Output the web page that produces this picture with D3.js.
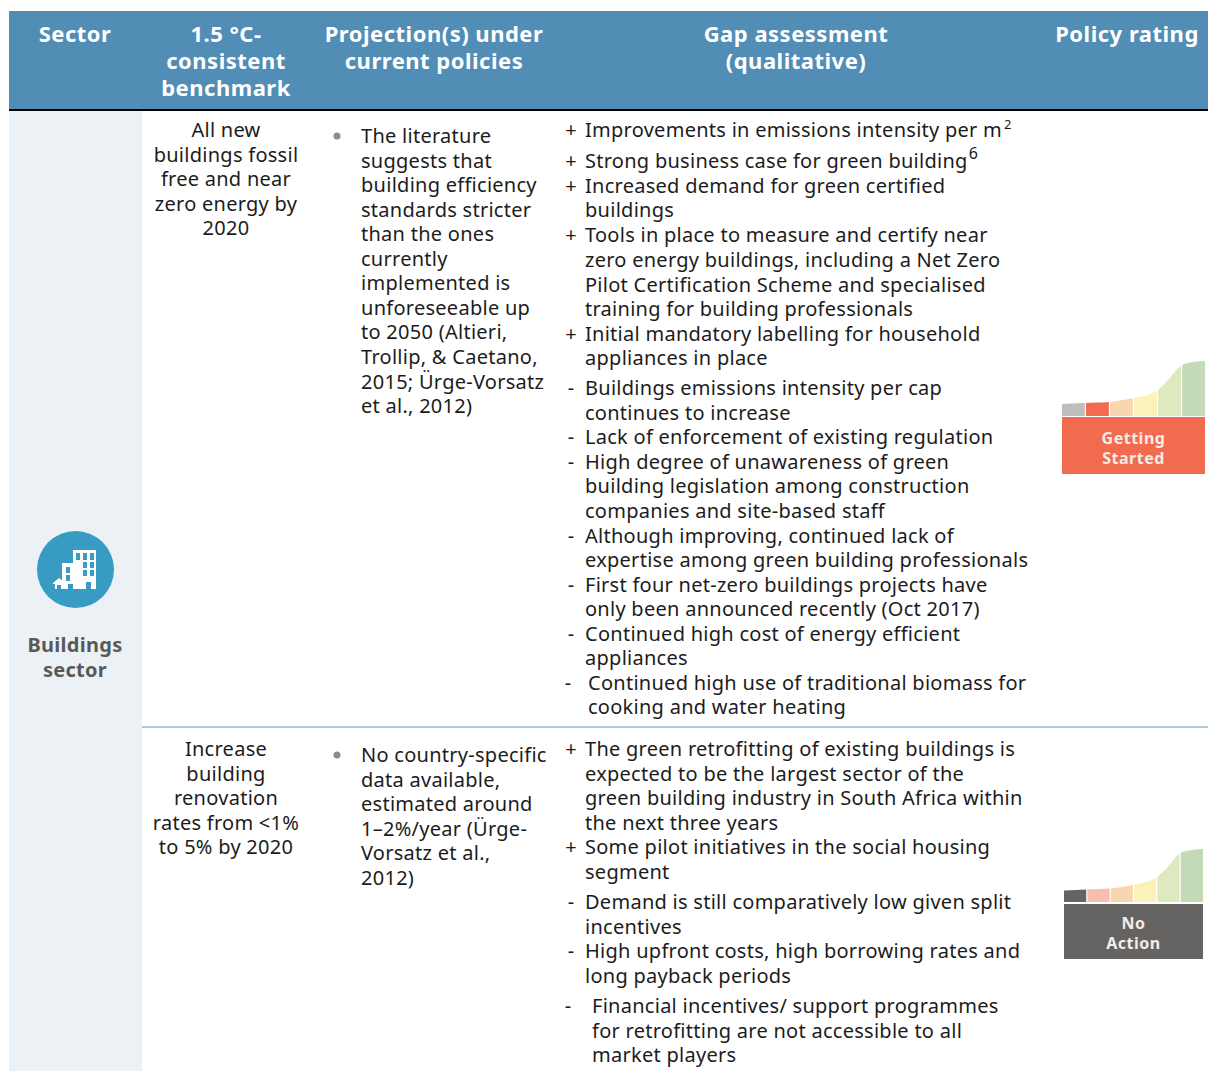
<!DOCTYPE html>
<html>
<head>
<meta charset="utf-8">
<script src="https://cdn.jsdelivr.net/npm/d3@7"></script>
<style>
    html, body { margin: 0; padding: 0; background: #fff; }
    svg { display: block; }
    text { font-family: 'Noto Sans', sans-serif; letter-spacing: 0.27px; }
</style>
</head>
<body>
<div id="container"></div>
<script>
const headers = [
    ['Sector'],
    ['1.5 °C-', 'consistent', 'benchmark'],
    ['Projection(s) under', 'current policies'],
    ['Gap assessment', '(qualitative)'],
    ['Policy rating']
];
const sectorLabel = ['Buildings', 'sector'];

const benchmarkNew = ['All new', 'buildings fossil', 'free and near', 'zero energy by', '2020'];
const benchmarkRetrofit = ['Increase', 'building', 'renovation', 'rates from <1%', 'to 5% by 2020'];

const projectionNew = ['The literature', 'suggests that', 'building efficiency', 'standards stricter', 'than the ones', 'currently', 'implemented is', 'unforeseeable up', 'to 2050 (Altieri,', 'Trollip, & Caetano,', '2015; Ürge-Vorsatz', 'et al., 2012)'];
const projectionRetrofit = ['No country-specific', 'data available,', 'estimated around', '1–2%/year (Ürge-', 'Vorsatz et al.,', '2012)'];

const gapNew = [
    ['+', ['Improvements in emissions intensity per m'], '2'],
    ['+', ['Strong business case for green building'], '6'],
    ['+', ['Increased demand for green certified', 'buildings']],
    ['+', ['Tools in place to measure and certify near', 'zero energy buildings, including a Net Zero', 'Pilot Certification Scheme and specialised', 'training for building professionals']],
    ['+', ['Initial mandatory labelling for household', 'appliances in place']],
    ['-', ['Buildings emissions intensity per cap', 'continues to increase']],
    ['-', ['Lack of enforcement of existing regulation']],
    ['-', ['High degree of unawareness of green', 'building legislation among construction', 'companies and site-based staff']],
    ['-', ['Although improving, continued lack of', 'expertise among green building professionals']],
    ['-', ['First four net-zero buildings projects have', 'only been announced recently (Oct 2017)']],
    ['-', ['Continued high cost of energy efficient', 'appliances']],
    ['-', ['Continued high use of traditional biomass for', 'cooking and water heating']]
];
const gapRetrofit = [
    ['+', ['The green retrofitting of existing buildings is', 'expected to be the largest sector of the', 'green building industry in South Africa within', 'the next three years']],
    ['+', ['Some pilot initiatives in the social housing', 'segment']],
    ['-', ['Demand is still comparatively low given split', 'incentives']],
    ['-', ['High upfront costs, high borrowing rates and', 'long payback periods']],
    ['-', ['Financial incentives/ support programmes', 'for retrofitting are not accessible to all', 'market players']]
];

// rating curve: share along the bar -> height of the curve
const curveShare = [0, 0.16, 0.33, 0.5, 0.6, 0.67, 0.73, 0.8, 0.84, 0.92, 1];
const curveHeight = [12, 13, 14, 18, 21, 26, 34, 46, 51, 54, 55];
const ratingNames = ['Getting Started', 'No Action'];
const ratingBands = [
    ['#bfbdbd', '#f26b4e', '#f9d6b0', '#faf2b9', '#dfe9bf', '#c4dab6'],
    ['#666462', '#f9bdb0', '#f9d6b0', '#faf2b9', '#dfe9bf', '#c4dab6']
];
const ratingColors = ['#f26b4e', '#666462'];

const width = 1208, height = 1071;
const ink = '#1c1c1c';
const bodySize = 20;
const headSize = 22;

const svg = d3.select('#container')
    .append('svg')
    .attr('width', width)
    .attr('height', height);

// backgrounds
svg.append('rect').attr('x', 9).attr('y', 11).attr('width', width - 9).attr('height', 98).attr('fill', '#518db5');
svg.append('rect').attr('x', 9).attr('y', 109).attr('width', width - 9).attr('height', 2).attr('fill', '#000');
svg.append('rect').attr('x', 9).attr('y', 111).attr('width', 133).attr('height', height - 111).attr('fill', '#ecf1f6');
svg.append('rect').attr('x', 142).attr('y', 726).attr('width', width - 142).attr('height', 2).attr('fill', '#a9cbdd');

// a fixed line pitch for every text column
const lineY = d3.scaleLinear().domain([0, 1]).range([0, 24.55]);

const block = (lines, x, top, anchor, opts = {}) => {
    const g = svg.append('g');
    g.selectAll('text')
        .data(lines)
        .enter()
        .append('text')
        .attr('x', x)
        .attr('y', (_, i) => top + lineY(i))
        .attr('text-anchor', anchor)
        .attr('font-size', opts.size || bodySize)
        .attr('font-weight', opts.weight || 400)
        .attr('fill', opts.fill || ink)
        .text(d => d);
};

// header
const headerX = [75, 226, 434, 796, 1127];
headers.forEach((lines, i) => {
    const g = svg.append('g');
    g.selectAll('text')
        .data(lines)
        .enter()
        .append('text')
        .attr('x', headerX[i])
        .attr('y', (_, j) => 41.5 + j * 27.4)
        .attr('text-anchor', 'middle')
        .attr('font-size', headSize)
        .attr('font-weight', 700)
        .attr('fill', '#fff')
        .style('letter-spacing', '0.5px')
        .text(d => d);
});

// sector cell
svg.append('circle').attr('cx', 75.5).attr('cy', 569.5).attr('r', 38.5).attr('fill', '#379bc4');
const icon = svg.append('g').attr('fill', '#fff');
icon.append('path').attr('fill-rule', 'evenodd').attr('d',
    'M73 550h23v39h-5v-7h-5v7h-13z' +
    'M76 553h4v7h-4zM83 553h4v7h-4zM90 553h4v7h-4z' +
    'M83 562h4v6h-4zM90 562h4v6h-4z' +
    'M83 570h4v6h-4zM90 570h4v6h-4z');
icon.append('path').attr('fill-rule', 'evenodd').attr('d',
    'M62 563h18v26h-7v-5h-5v5h-6v-9z' +
    'M66 567h4v6h-4zM73 567h4v6h-4zM66 575h4v6h-4zM73 575h4v6h-4z');
icon.append('path').attr('d', 'M53 583l6-5 6 5v1h-1v5h-3v-4h-4v4h-2v-5h-2z');
block(sectorLabel, 75, 652, 'middle', { size: 20, weight: 700, fill: '#595959' });

// benchmark column
block(benchmarkNew, 226, 137, 'middle');
block(benchmarkRetrofit, 226, 756, 'middle');

// projection column
const projectionBullet = (y) => svg.append('circle').attr('cx', 337).attr('cy', y).attr('r', 3.5).attr('fill', '#8c8c8c');
projectionBullet(136);
block(projectionNew, 361, 143, 'start');
projectionBullet(755);
block(projectionRetrofit, 361, 762, 'start');

// gap column: extraGap is the loose spacing above some items, indent the odd hanging ones
const drawGap = (items, top, extraGap, indent) => {
    let y = top;
    items.forEach((item, i) => {
        y += extraGap[i] || 0;
        const shift = indent[i] || 0;
        svg.append('text')
            .attr('x', 571 - (shift ? 3 : 0))
            .attr('y', y)
            .attr('text-anchor', 'middle')
            .attr('font-size', bodySize)
            .attr('fill', ink)
            .text(item[0]);
        block(item[1], 585 + shift, y, 'start');
        if (item[2]) {
            const last = svg.append('text')
                .attr('x', 585 + shift)
                .attr('y', y)
                .attr('font-size', bodySize)
                .text(item[1][0]);
            const end = last.node().getComputedTextLength();
            last.remove();
            const big = item[2] === '6';
            svg.append('text')
                .attr('x', 585 + shift + end + (big ? 1 : 2))
                .attr('y', y - (big ? 9 : 8))
                .attr('font-size', big ? 16 : 13)
                .attr('fill', ink)
                .text(item[2]);
        }
        y += lineY(item[1].length);
    });
};
drawGap(gapNew, 137, { 1: 6.5, 3: 0.7, 5: 5.5 }, { 11: 3 });
drawGap(gapRetrofit, 756, { 2: 6, 4: 5.5 }, { 4: 7 });

// rating graphics
const ratingLayout = [
    { x0: 1062, x1: 1205, base: 416, top: 361, boxTop: 417, boxH: 57, textY: 443.5 },
    { x0: 1064, x1: 1203, base: 902, top: 849, boxTop: 904, boxH: 55, textY: 929 }
];
ratingLayout.forEach((r, k) => {
    const x = d3.scaleLinear().domain([0, 1]).range([r.x0, r.x1]);
    const y = d3.scaleLinear().domain([0, 55]).range([r.base, r.top]);
    const area = d3.area()
        .x((_, i) => x(curveShare[i]))
        .y0(r.base)
        .y1(d => y(d))
        .curve(d3.curveMonotoneX);
    const clipId = 'curve-' + k;
    svg.append('clipPath').attr('id', clipId)
        .append('path').attr('d', area(curveHeight));
    const band = d3.scaleBand()
        .domain(d3.range(ratingBands[k].length))
        .range([r.x0, r.x1])
        .paddingInner(0.05);
    svg.append('g').attr('clip-path', 'url(#' + clipId + ')')
        .selectAll('rect')
        .data(ratingBands[k])
        .enter()
        .append('rect')
        .attr('x', (_, i) => band(i))
        .attr('y', r.top)
        .attr('width', band.bandwidth())
        .attr('height', r.base - r.top)
        .attr('fill', d => d);
    svg.append('rect')
        .attr('x', r.x0).attr('y', r.boxTop)
        .attr('width', r.x1 - r.x0).attr('height', r.boxH)
        .attr('fill', ratingColors[k]);
    svg.append('g').selectAll('text')
        .data(ratingNames[k].split(' '))
        .enter()
        .append('text')
        .attr('x', (r.x0 + r.x1) / 2)
        .attr('y', (_, i) => r.textY + i * 20)
        .attr('text-anchor', 'middle')
        .attr('font-size', 16)
        .attr('font-weight', 700)
        .attr('fill', '#f4ece6')
        .style('letter-spacing', '0.5px')
        .text(d => d);
});
</script>
</body>
</html>
